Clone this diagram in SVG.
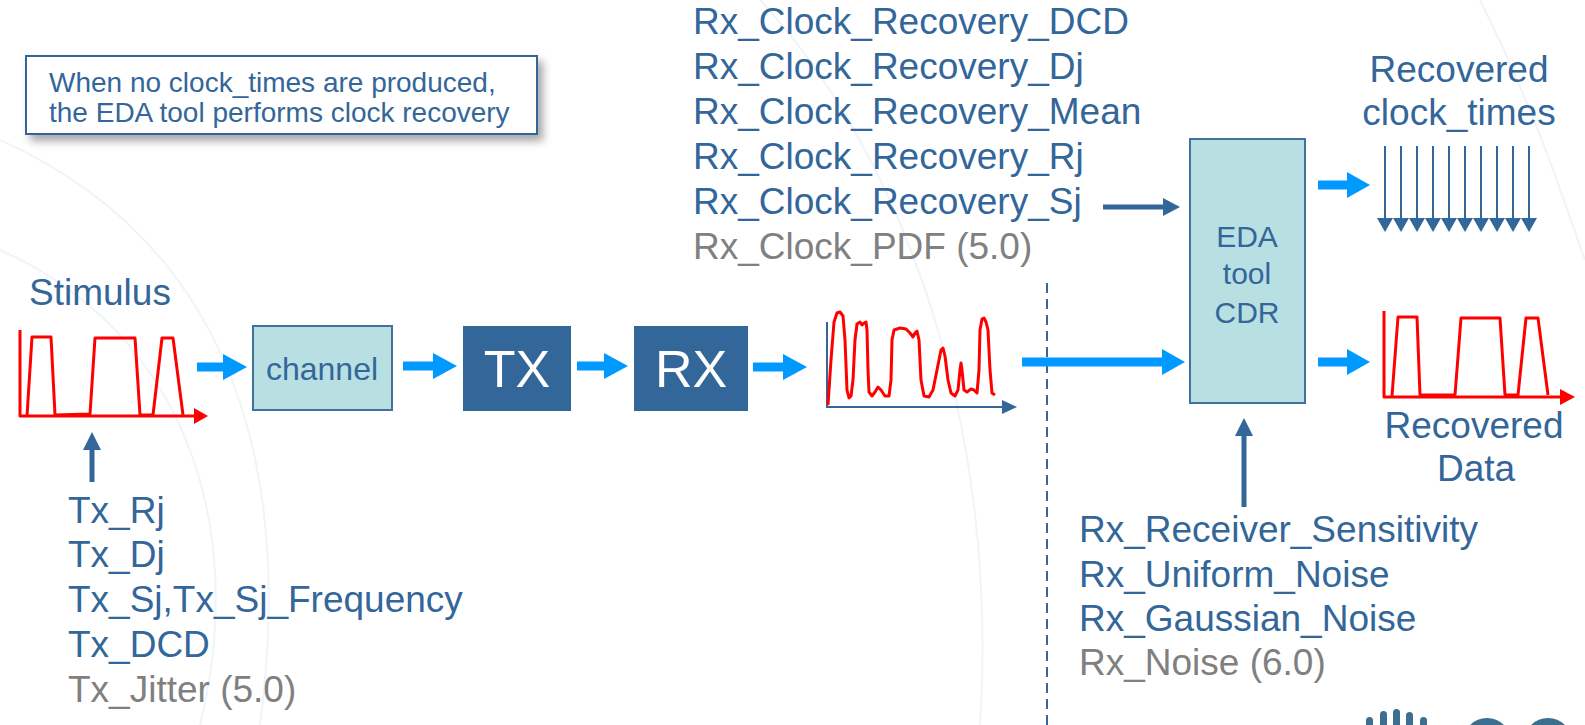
<svg xmlns="http://www.w3.org/2000/svg" width="1585" height="725" viewBox="0 0 1585 725">
<defs>
<style>
.t{font-family:"Liberation Sans",Arial,sans-serif;fill:#336699}
.g{fill:#808080}
.big{font-size:37px}
.cyan{stroke:#0099ff;stroke-width:9;fill:none}
.cyanh{fill:#0099ff}
.dk{stroke:#336699;stroke-width:5;fill:none}
.dkh{fill:#336699}
.lbox{fill:#b8dfe2;stroke:#41719c;stroke-width:2}
.dbox{fill:#336699}
.red{fill:none;stroke:#ff0000;stroke-width:3;stroke-linejoin:round}
.axb{stroke:#336699;stroke-width:2;fill:none}
.bg{fill:none;stroke:#e6edf4;stroke-width:2;opacity:0.6}
</style>
<filter id="sh" x="-10%" y="-20%" width="130%" height="160%">
<feDropShadow dx="5" dy="6" stdDeviation="4" flood-color="#000" flood-opacity="0.35"/>
</filter>
</defs>
<rect width="1585" height="725" fill="#ffffff"/>
<g id="background">
<path class="bg" d="M0,140 C200,230 300,420 260,725"/>
<path class="bg" d="M0,250 C180,330 250,520 200,725"/>
<path class="bg" d="M760,0 C900,150 1000,420 980,725"/>
<path class="bg" d="M1480,0 C1540,120 1570,220 1585,260"/>
</g>
<g id="note">
<rect x="26" y="56" width="511" height="78" fill="#ffffff" stroke="#336699" stroke-width="2" filter="url(#sh)"/>
<text class="t" x="49" y="92" font-size="28">When no clock_times are produced,</text>
<text class="t" x="49" y="122" font-size="28">the EDA tool performs clock recovery</text>
</g>
<g id="stimulus">
<text class="t big" x="29" y="305">Stimulus</text>
<polyline class="red" points="20,330 20,416 194,416"/>
<polygon fill="#ff0000" points="194,408 208,416 194,424"/>
<polyline class="red" points="27,416 32,337 51,337 55,415 90,414 95,338 135,338 140,415 153,415 162,338 173,338 183,415"/>
</g>
<g id="channel">
<rect class="lbox" x="253" y="326" width="139" height="84"/>
<text class="t" x="322" y="380" font-size="32" text-anchor="middle">channel</text>
</g>
<g id="tx">
<rect class="dbox" x="463" y="326" width="108" height="85"/>
<text x="517" y="387" font-size="52" fill="#ffffff" font-family="Liberation Sans, Arial, sans-serif" text-anchor="middle">TX</text>
</g>
<g id="rx">
<rect class="dbox" x="634" y="326" width="114" height="85"/>
<text x="691" y="387" font-size="52" fill="#ffffff" font-family="Liberation Sans, Arial, sans-serif" text-anchor="middle">RX</text>
</g>
<g id="received">
<polyline class="axb" points="827,322 827,407 1003,407"/>
<polygon class="dkh" points="1002,400 1017,407 1002,414"/>
<polyline class="red" stroke-width="2.5" points="828,405 831,360 834,322 837,313 840,312 843,316 845,340 847,390 849,398 851,396 853,380 855,340 857,324 860,322 862,325 864,323 866,322 867,330 868,370 869,392 872,396 875,392 878,387 881,390 885,396 889,396 891,380 892,340 894,330 900,328 906,329 910,333 913,337 915,333 917,331 919,340 921,380 924,396 929,397 933,390 937,370 941,350 943,348 945,356 948,380 951,393 955,396 958,390 960,370 961,363 962,370 964,390 967,392 971,389 974,390 977,393 979,370 980,330 982,319 984,318 986,322 988,330 990,370 992,393 995,395"/>
</g>
<g id="clock_params">
<text class="t big" x="693" y="34">Rx_Clock_Recovery_DCD</text>
<text class="t big" x="693" y="79">Rx_Clock_Recovery_Dj</text>
<text class="t big" x="693" y="124">Rx_Clock_Recovery_Mean</text>
<text class="t big" x="693" y="169">Rx_Clock_Recovery_Rj</text>
<text class="t big" x="693" y="214">Rx_Clock_Recovery_Sj</text>
<text class="t big g" x="693" y="259">Rx_Clock_PDF (5.0)</text>
</g>
<g id="eda">
<rect class="lbox" x="1190" y="139" width="115" height="264"/>
<text class="t" x="1247" y="247" font-size="30" text-anchor="middle">EDA</text>
<text class="t" x="1247" y="284" font-size="30" text-anchor="middle">tool</text>
<text class="t" x="1247" y="323" font-size="30" text-anchor="middle">CDR</text>
</g>
<g id="recovered_clock">
<text class="t big" x="1459" y="82" text-anchor="middle">Recovered</text>
<text class="t big" x="1459" y="125" text-anchor="middle">clock_times</text>
<g stroke="#336699" stroke-width="2">
<line x1="1385" y1="146" x2="1385" y2="220"/><line x1="1401" y1="146" x2="1401" y2="220"/>
<line x1="1417" y1="146" x2="1417" y2="220"/><line x1="1433" y1="146" x2="1433" y2="220"/>
<line x1="1449" y1="146" x2="1449" y2="220"/><line x1="1465" y1="146" x2="1465" y2="220"/>
<line x1="1481" y1="146" x2="1481" y2="220"/><line x1="1497" y1="146" x2="1497" y2="220"/>
<line x1="1513" y1="146" x2="1513" y2="220"/><line x1="1529" y1="146" x2="1529" y2="220"/>
</g>
<path class="dkh" d="M1377,218h16l-8,14z M1393,218h16l-8,14z M1409,218h16l-8,14z M1425,218h16l-8,14z M1441,218h16l-8,14z M1457,218h16l-8,14z M1473,218h16l-8,14z M1489,218h16l-8,14z M1505,218h16l-8,14z M1521,218h16l-8,14z"/>
</g>
<g id="recovered_data">
<polyline class="red" points="1384,311 1384,397 1561,397"/>
<polygon fill="#ff0000" points="1560,389 1575,397 1560,405"/>
<polyline class="red" points="1392,396 1398,317 1417,317 1420,395 1455,395 1461,318 1500,318 1505,395 1518,395 1526,318 1538,318 1548,395"/>
<text class="t big" x="1474" y="438" text-anchor="middle">Recovered</text>
<text class="t big" x="1476" y="481" text-anchor="middle">Data</text>
</g>
<g id="tx_params">
<text class="t big" x="68" y="523">Tx_Rj</text>
<text class="t big" x="68" y="567">Tx_Dj</text>
<text class="t big" x="68" y="612">Tx_Sj,Tx_Sj_Frequency</text>
<text class="t big" x="68" y="657">Tx_DCD</text>
<text class="t big g" x="68" y="702">Tx_Jitter (5.0)</text>
</g>
<g id="rx_params">
<text class="t big" x="1079" y="542">Rx_Receiver_Sensitivity</text>
<text class="t big" x="1079" y="587">Rx_Uniform_Noise</text>
<text class="t big" x="1079" y="631">Rx_Gaussian_Noise</text>
<text class="t big g" x="1079" y="675">Rx_Noise (6.0)</text>
</g>
<g id="logo" fill="#3b6e8f">
<rect x="1366" y="717" width="7" height="20" rx="3.5"/>
<rect x="1380" y="711" width="7" height="20" rx="3.5"/>
<rect x="1393" y="709" width="7" height="20" rx="3.5"/>
<rect x="1406" y="712" width="7" height="20" rx="3.5"/>
<rect x="1420" y="717" width="7" height="20" rx="3.5"/>
<circle cx="1487" cy="742" r="24"/>
<circle cx="1548" cy="742" r="24"/>
</g>
<g id="connectors">
<line x1="1047" y1="283" x2="1047" y2="725" stroke="#336699" stroke-width="2" stroke-dasharray="10,6"/>
<line class="cyan" x1="197" y1="367" x2="225" y2="367"/><polygon class="cyanh" points="223,354 247,367 223,380"/>
<line class="cyan" x1="403" y1="366" x2="435" y2="366"/><polygon class="cyanh" points="433,353 457,366 433,379"/>
<line class="cyan" x1="577" y1="366" x2="606" y2="366"/><polygon class="cyanh" points="604,353 628,366 604,379"/>
<line class="cyan" x1="753" y1="367" x2="785" y2="367"/><polygon class="cyanh" points="783,354 807,367 783,380"/>
<line class="cyan" x1="1022" y1="362" x2="1164" y2="362" stroke-width="8"/><polygon class="cyanh" points="1162,349 1185,362 1162,375"/>
<line class="cyan" x1="1318" y1="185" x2="1349" y2="185"/><polygon class="cyanh" points="1347,172 1370,185 1347,198"/>
<line class="cyan" x1="1318" y1="362" x2="1349" y2="362"/><polygon class="cyanh" points="1347,349 1370,362 1347,375"/>
<line class="dk" x1="1103" y1="207" x2="1165" y2="207"/><polygon class="dkh" points="1163,198 1180,207 1163,216"/>
<line class="dk" x1="92" y1="482" x2="92" y2="448"/><polygon class="dkh" points="83,450 101,450 92,432"/>
<line class="dk" x1="1244" y1="507" x2="1244" y2="434"/><polygon class="dkh" points="1235,436 1253,436 1244,418"/>
</g>
</svg>
